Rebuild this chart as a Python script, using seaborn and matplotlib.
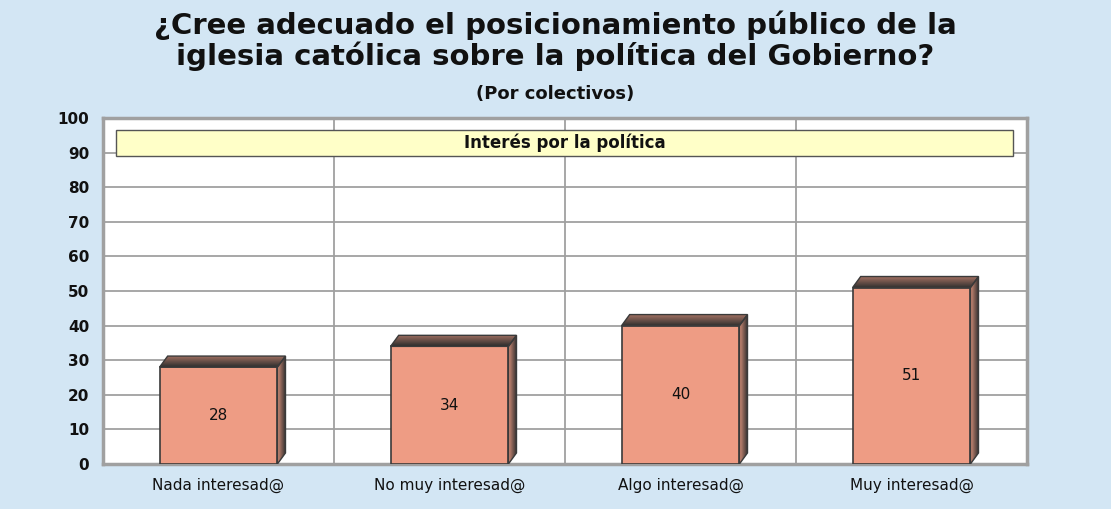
import numpy as np
import matplotlib
matplotlib.use("Agg")
import matplotlib.pyplot as plt
import pandas as pd
import seaborn as sns
from matplotlib.patches import Polygon, Rectangle

# data
categories = ["Nada interesad@", "No muy interesad@", "Algo interesad@", "Muy interesad@"]
values = [28, 34, 40, 51]
yticks = [0, 10, 20, 30, 40, 50, 60, 70, 80, 90, 100]

title = "¿Cree adecuado el posicionamiento público de la\niglesia católica sobre la política del Gobierno?"
subtitle = "(Por colectivos)"
box_label = "Interés por la política"

df = pd.DataFrame({"grupo": categories, "pct": values})

sns.set_theme(style="white")
plt.rcParams["font.family"] = ["DejaVu Sans"]

bg = "#d3e6f4"
front = "#ee9c84"

fig = plt.figure(figsize=(11.11, 5.09), dpi=100, facecolor=bg)
ax = fig.add_axes([0.0927, 0.0884, 0.8317, 0.6796])
ax.set_facecolor("white")

sns.barplot(data=df, x="grupo", y="pct", color=front, width=0.51,
            saturation=1, edgecolor="#3a3a3a", linewidth=1.2, ax=ax, zorder=3)

ax.set_ylim(0, 100)
ax.set_xlim(-0.5, len(categories) - 0.5)
ax.set_yticks(yticks)
ax.set_xlabel("")
ax.set_ylabel("")

# grid: horizontal at ticks, vertical between categories
for t in yticks[1:-1]:
    ax.axhline(t, color="#a0a0a0", lw=1.3, zorder=1)
for b in np.arange(0.5, len(categories) - 0.5, 1):
    ax.axvline(b, color="#a0a0a0", lw=1.3, zorder=1)

for s in ax.spines.values():
    s.set_color("#a0a0a0")
    s.set_linewidth(2.5)

ax.tick_params(axis="y", length=0, pad=10, labelsize=11)
ax.tick_params(axis="x", length=0, pad=10, labelsize=11)
for lab in ax.get_yticklabels():
    lab.set_fontweight("bold")
    lab.set_color("#111111")
for lab in ax.get_xticklabels():
    lab.set_color("#111111")

# fake 3d depth: top and side faces with gradients
dx = 0.035
dy = 3.2
grad = np.linspace(0, 1, 64)
cm_top = matplotlib.colors.LinearSegmentedColormap.from_list("top", ["#2e2e2e", "#a87464"])
cm_side = matplotlib.colors.LinearSegmentedColormap.from_list("side", ["#d8907a", "#2e2e2e"])

for p, v in zip(ax.patches, values):
    x0 = p.get_x()
    x1 = x0 + p.get_width()
    top = Polygon([(x0, v), (x1, v), (x1 + dx, v + dy), (x0 + dx, v + dy)],
                  closed=True, facecolor="none", edgecolor="#3a3a3a", lw=1.0, zorder=4)
    side = Polygon([(x1, 0), (x1 + dx, dy), (x1 + dx, v + dy), (x1, v)],
                   closed=True, facecolor="none", edgecolor="#3a3a3a", lw=1.0, zorder=4)
    ax.add_patch(top)
    ax.add_patch(side)
    im1 = ax.imshow(grad[::-1].reshape(-1, 1), cmap=cm_top, aspect="auto",
                    extent=(x0, x1 + dx, v, v + dy), origin="upper", zorder=3)
    im1.set_clip_path(top)
    im2 = ax.imshow(grad.reshape(1, -1), cmap=cm_side, aspect="auto",
                    extent=(x1, x1 + dx, 0, v + dy), zorder=3)
    im2.set_clip_path(side)
    ax.text(x0 + p.get_width() / 2, v / 2, str(v), ha="center", va="center",
            fontsize=11, color="#111111", zorder=5)

ax.set_xlim(-0.5, len(categories) - 0.5)
ax.set_ylim(0, 100)

# legend-like yellow box
ax.add_patch(Rectangle((0.014, 89), 0.971, 7.5, transform=ax.get_yaxis_transform(),
                       facecolor="#ffffc8", edgecolor="#555555", lw=1.0, zorder=6))
ax.text(0.5, 92.75, box_label, transform=ax.get_yaxis_transform(), ha="center",
        va="center", fontsize=12, fontweight="bold", color="#111111", zorder=7)

fig.text(0.5, 0.92, title, ha="center", va="center", fontsize=21, fontweight="bold",
         color="#111111", linespacing=1.1)
fig.text(0.5, 0.815, subtitle, ha="center", va="center", fontsize=13, fontweight="bold",
         color="#111111")

fig.savefig("out.png", dpi=100, facecolor=bg)
